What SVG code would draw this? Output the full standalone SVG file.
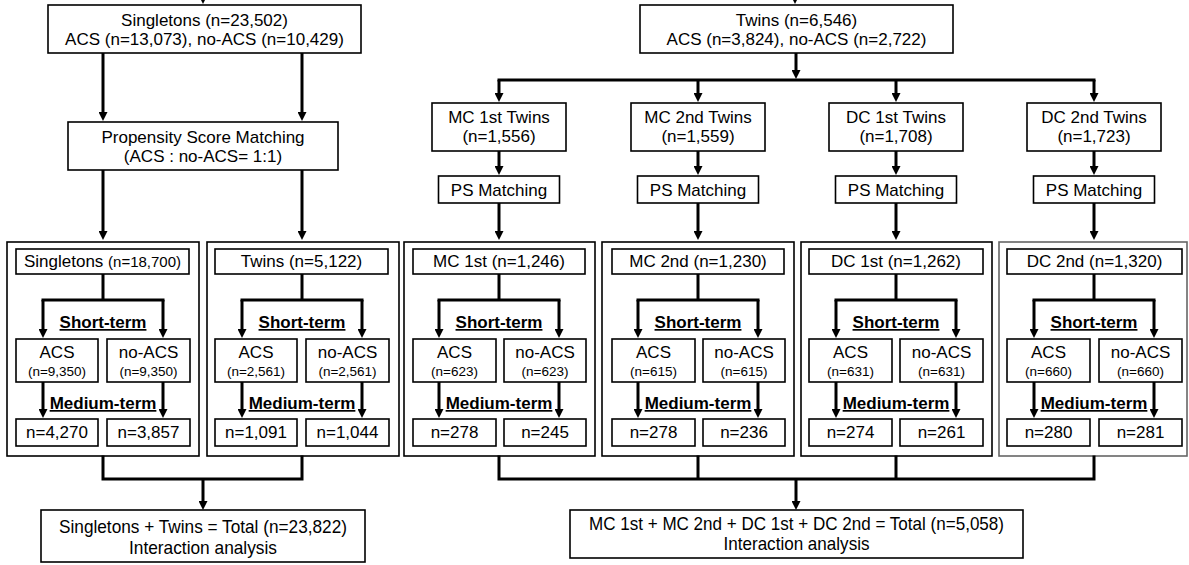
<svg xmlns="http://www.w3.org/2000/svg" width="1189" height="565" viewBox="0 0 1189 565">
<style>
text{font-family:"Liberation Sans",Arial,sans-serif;fill:#000;text-anchor:middle}
.t{font-size:17px}
.s{font-size:15px}
.xs{font-size:13.5px}
.b{font-size:17px;font-weight:bold;text-decoration:underline}
.bt{font-size:18.5px}
.box{fill:#fff;stroke:#000;stroke-width:1.6}
.panel{fill:#fff;stroke:#000;stroke-width:1.6}
.panel.g{stroke:#666}
.c{fill:none;stroke:#000;stroke-width:3;stroke-linecap:square}
.a{fill:none;stroke:#000;stroke-width:3;marker-end:url(#ah)}
</style>
<defs>
<marker id="ah" markerUnits="userSpaceOnUse" markerWidth="9" markerHeight="9" refX="3" refY="4.5" orient="auto">
<path d="M0,0 L9,4.5 L0,9 z" fill="#000"/>
</marker>
</defs>
<rect width="1189" height="565" fill="#fff"/>

<g id="panel-singletons"><rect class="panel" x="7" y="242" width="192" height="214"/></g>
<g id="panel-twins"><rect class="panel" x="207" y="242" width="192" height="214"/></g>
<g id="panel-mc1"><rect class="panel" x="404" y="242" width="191" height="214"/></g>
<g id="panel-mc2"><rect class="panel" x="602" y="242" width="192" height="214"/></g>
<g id="panel-dc1"><rect class="panel" x="801" y="242" width="191" height="214"/></g>
<g id="panel-dc2"><rect class="panel g" x="999" y="242" width="188" height="214"/></g>

<g id="connectors">
<path class="a" d="M203,-10 V-2"/>
<path class="a" d="M795,-10 V-2"/>
<path class="a" d="M103,53 V115"/>
<path class="a" d="M302,53 V115"/>
<path class="a" d="M103,170 V234"/>
<path class="a" d="M302,170 V234"/>
<path class="a" d="M796,53 V73"/>
<path class="c" d="M499,80 H1094"/>
<path class="a" d="M499,80 V96"/>
<path class="a" d="M698,80 V96"/>
<path class="a" d="M896,80 V96"/>
<path class="a" d="M1094,80 V96"/>
<path class="a" d="M499,151 V169"/>
<path class="a" d="M698,151 V169"/>
<path class="a" d="M896,151 V169"/>
<path class="a" d="M1094,151 V169"/>
<path class="a" d="M499,203 V234"/>
<path class="a" d="M698,203 V234"/>
<path class="a" d="M896,203 V234"/>
<path class="a" d="M1094,203 V234"/>
<path class="c" d="M103,274 V300 M43,300 H163"/>
<path class="a" d="M43,300 V332"/><path class="a" d="M163,300 V332"/>
<path class="a" d="M43,382 V412"/><path class="a" d="M163,382 V412"/>
<path class="c" d="M302,274 V300 M242,300 H362"/>
<path class="a" d="M242,300 V332"/><path class="a" d="M362,300 V332"/>
<path class="a" d="M242,382 V412"/><path class="a" d="M362,382 V412"/>
<path class="c" d="M499,274 V300 M439,300 H559"/>
<path class="a" d="M439,300 V332"/><path class="a" d="M559,300 V332"/>
<path class="a" d="M439,382 V412"/><path class="a" d="M559,382 V412"/>
<path class="c" d="M698,274 V300 M638,300 H758"/>
<path class="a" d="M638,300 V332"/><path class="a" d="M758,300 V332"/>
<path class="a" d="M638,382 V412"/><path class="a" d="M758,382 V412"/>
<path class="c" d="M896,274 V300 M836,300 H956"/>
<path class="a" d="M836,300 V332"/><path class="a" d="M956,300 V332"/>
<path class="a" d="M836,382 V412"/><path class="a" d="M956,382 V412"/>
<path class="c" d="M1094,274 V300 M1034,300 H1154"/>
<path class="a" d="M1034,300 V332"/><path class="a" d="M1154,300 V332"/>
<path class="a" d="M1034,382 V412"/><path class="a" d="M1154,382 V412"/>
<path class="c" d="M103,457 V479 H302 V457"/>
<path class="a" d="M203,479 V504"/>
<path class="c" d="M499,457 V479 H1094 V457 M698,457 V479 M896,457 V479"/>
<path class="a" d="M796,479 V504"/>
</g>

<g id="singletons-top">
<rect class="box" x="48" y="5" width="313" height="48"/>
<text class="t" x="204.5" y="26">Singletons (n=23,502)</text>
<text class="t" x="204.5" y="45">ACS (n=13,073), no-ACS (n=10,429)</text>
</g>
<g id="psm">
<rect class="box" x="68" y="122" width="270" height="48"/>
<text class="t" x="203" y="143">Propensity Score Matching</text>
<text class="t" x="203" y="162">(ACS : no-ACS= 1:1)</text>
</g>
<g id="twins-top">
<rect class="box" x="640" y="5" width="313" height="48"/>
<text class="t" x="796.5" y="26">Twins (n=6,546)</text>
<text class="t" x="796.5" y="45">ACS (n=3,824), no-ACS (n=2,722)</text>
</g>

<g id="mc1-twins">
<rect class="box" x="432" y="103" width="134" height="48"/>
<text class="t" x="499" y="123">MC 1st Twins</text>
<text class="t" x="499" y="142">(n=1,556)</text>
</g>
<g id="mc2-twins">
<rect class="box" x="631" y="103" width="134" height="48"/>
<text class="t" x="698" y="123">MC 2nd Twins</text>
<text class="t" x="698" y="142">(n=1,559)</text>
</g>
<g id="dc1-twins">
<rect class="box" x="829" y="103" width="134" height="48"/>
<text class="t" x="896" y="123">DC 1st Twins</text>
<text class="t" x="896" y="142">(n=1,708)</text>
</g>
<g id="dc2-twins">
<rect class="box" x="1027" y="103" width="134" height="48"/>
<text class="t" x="1094" y="123">DC 2nd Twins</text>
<text class="t" x="1094" y="142">(n=1,723)</text>
</g>

<g id="ps-mc1"><rect class="box" x="438.5" y="176" width="121" height="27"/><text class="t" x="499" y="196">PS Matching</text></g>
<g id="ps-mc2"><rect class="box" x="637.5" y="176" width="121" height="27"/><text class="t" x="698" y="196">PS Matching</text></g>
<g id="ps-dc1"><rect class="box" x="835.5" y="176" width="121" height="27"/><text class="t" x="896" y="196">PS Matching</text></g>
<g id="ps-dc2"><rect class="box" x="1033.5" y="176" width="121" height="27"/><text class="t" x="1094" y="196">PS Matching</text></g>

<g id="panel-singletons-content" transform="translate(103,0)">
<rect class="box" x="-87" y="249" width="173" height="25"/>
<text x="-0.5" y="267"><tspan class="t">Singletons </tspan><tspan class="s">(n=18,700)</tspan></text>
<text class="b" x="0" y="328">Short-term</text>
<rect class="box" x="-87" y="339" width="82" height="43"/>
<text class="t" x="-46" y="358">ACS</text><text class="xs" x="-46" y="376">(n=9,350)</text>
<rect class="box" x="4" y="339" width="83" height="43"/>
<text class="t" x="45.5" y="358">no-ACS</text><text class="xs" x="45.5" y="376">(n=9,350)</text>
<text class="b" x="0" y="409">Medium-term</text>
<rect class="box" x="-87" y="419" width="82" height="27"/><text class="t" x="-46" y="438">n=4,270</text>
<rect class="box" x="4" y="419" width="83" height="27"/><text class="t" x="45.5" y="438">n=3,857</text>
</g>
<g id="panel-twins-content" transform="translate(302,0)">
<rect class="box" x="-87" y="249" width="173" height="25"/>
<text class="t" x="-0.5" y="267">Twins (n=5,122)</text>
<text class="b" x="0" y="328">Short-term</text>
<rect class="box" x="-87" y="339" width="82" height="43"/>
<text class="t" x="-46" y="358">ACS</text><text class="xs" x="-46" y="376">(n=2,561)</text>
<rect class="box" x="4" y="339" width="83" height="43"/>
<text class="t" x="45.5" y="358">no-ACS</text><text class="xs" x="45.5" y="376">(n=2,561)</text>
<text class="b" x="0" y="409">Medium-term</text>
<rect class="box" x="-87" y="419" width="82" height="27"/><text class="t" x="-46" y="438">n=1,091</text>
<rect class="box" x="4" y="419" width="83" height="27"/><text class="t" x="45.5" y="438">n=1,044</text>
</g>
<g id="panel-mc1-content" transform="translate(499,0)">
<rect class="box" x="-86" y="249" width="172" height="25"/>
<text class="t" x="0" y="267">MC 1st (n=1,246)</text>
<text class="b" x="0" y="328">Short-term</text>
<rect class="box" x="-86" y="339" width="83" height="43"/>
<text class="t" x="-44.5" y="358">ACS</text><text class="xs" x="-44.5" y="376">(n=623)</text>
<rect class="box" x="5" y="339" width="82" height="43"/>
<text class="t" x="46" y="358">no-ACS</text><text class="xs" x="46" y="376">(n=623)</text>
<text class="b" x="0" y="409">Medium-term</text>
<rect class="box" x="-86" y="419" width="83" height="27"/><text class="t" x="-44.5" y="438">n=278</text>
<rect class="box" x="5" y="419" width="82" height="27"/><text class="t" x="46" y="438">n=245</text>
</g>
<g id="panel-mc2-content" transform="translate(698,0)">
<rect class="box" x="-86" y="249" width="172" height="25"/>
<text class="t" x="0" y="267">MC 2nd (n=1,230)</text>
<text class="b" x="0" y="328">Short-term</text>
<rect class="box" x="-86" y="339" width="83" height="43"/>
<text class="t" x="-44.5" y="358">ACS</text><text class="xs" x="-44.5" y="376">(n=615)</text>
<rect class="box" x="5" y="339" width="82" height="43"/>
<text class="t" x="46" y="358">no-ACS</text><text class="xs" x="46" y="376">(n=615)</text>
<text class="b" x="0" y="409">Medium-term</text>
<rect class="box" x="-86" y="419" width="83" height="27"/><text class="t" x="-44.5" y="438">n=278</text>
<rect class="box" x="5" y="419" width="82" height="27"/><text class="t" x="46" y="438">n=236</text>
</g>
<g id="panel-dc1-content" transform="translate(896,0)">
<rect class="box" x="-87" y="249" width="174" height="25"/>
<text class="t" x="0" y="267">DC 1st (n=1,262)</text>
<text class="b" x="0" y="328">Short-term</text>
<rect class="box" x="-87" y="339" width="83" height="43"/>
<text class="t" x="-45.5" y="358">ACS</text><text class="xs" x="-45.5" y="376">(n=631)</text>
<rect class="box" x="4" y="339" width="83" height="43"/>
<text class="t" x="45.5" y="358">no-ACS</text><text class="xs" x="45.5" y="376">(n=631)</text>
<text class="b" x="0" y="409">Medium-term</text>
<rect class="box" x="-87" y="419" width="83" height="27"/><text class="t" x="-45.5" y="438">n=274</text>
<rect class="box" x="4" y="419" width="83" height="27"/><text class="t" x="45.5" y="438">n=261</text>
</g>
<g id="panel-dc2-content" transform="translate(1094,0)">
<rect class="box" x="-87" y="249" width="175" height="25"/>
<text class="t" x="0.5" y="267">DC 2nd (n=1,320)</text>
<text class="b" x="0" y="328">Short-term</text>
<rect class="box" x="-87" y="339" width="83" height="43"/>
<text class="t" x="-45.5" y="358">ACS</text><text class="xs" x="-45.5" y="376">(n=660)</text>
<rect class="box" x="5" y="339" width="83" height="43"/>
<text class="t" x="46.5" y="358">no-ACS</text><text class="xs" x="46.5" y="376">(n=660)</text>
<text class="b" x="0" y="409">Medium-term</text>
<rect class="box" x="-87" y="419" width="83" height="27"/><text class="t" x="-45.5" y="438">n=280</text>
<rect class="box" x="5" y="419" width="83" height="27"/><text class="t" x="46.5" y="438">n=281</text>
</g>

<g id="total-left">
<rect class="box" x="41" y="510" width="324" height="52"/>
<text class="bt" x="203" y="533" textLength="288" lengthAdjust="spacingAndGlyphs">Singletons + Twins = Total (n=23,822)</text>
<text class="bt" x="203" y="554" textLength="148" lengthAdjust="spacingAndGlyphs">Interaction analysis</text>
</g>
<g id="total-right">
<rect class="box" x="570" y="510" width="453" height="48"/>
<text class="bt" x="796.5" y="530" textLength="415" lengthAdjust="spacingAndGlyphs">MC 1st + MC 2nd + DC 1st + DC 2nd = Total (n=5,058)</text>
<text class="bt" x="796.5" y="550" textLength="146" lengthAdjust="spacingAndGlyphs">Interaction analysis</text>
</g>
</svg>
